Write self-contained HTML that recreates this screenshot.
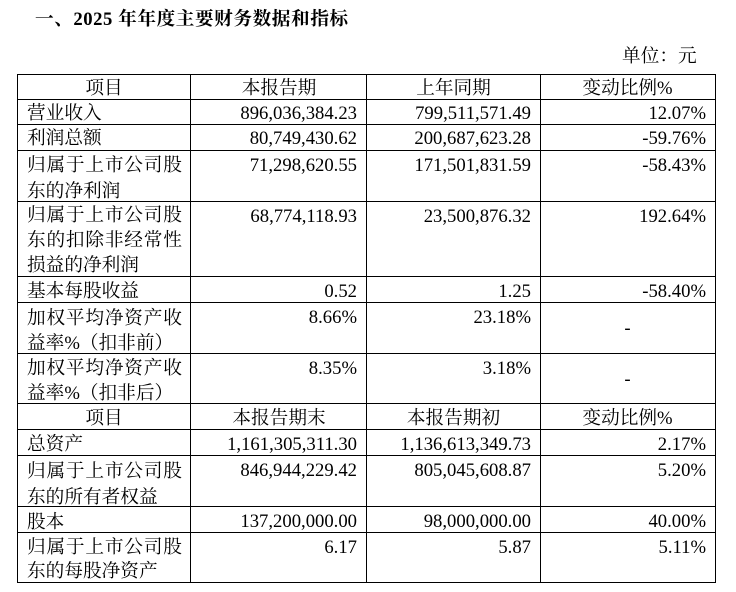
<!DOCTYPE html>
<html><head><meta charset="utf-8">
<style>
html,body{margin:0;padding:0;background:#fff;}
body{width:736px;height:592px;position:relative;overflow:hidden;font-family:"Liberation Serif","Noto Serif CJK SC",serif;font-size:18.67px;color:#000;}
.t{position:absolute;line-height:25px;white-space:nowrap;}
.m{line-height:25px;}
.h{position:absolute;background:#000;height:1px;left:17px;width:699px;}
.v{position:absolute;background:#000;width:1px;top:74px;height:509px;}
.l{left:27px;}
.j{letter-spacing:0.8px;}
.c2{right:379px;text-align:right;}
.c3{right:205px;text-align:right;}
.c4{right:30px;text-align:right;}
.k1{left:17px;width:174px;text-align:center;}
.k2{left:191px;width:176px;text-align:center;}
.k3{left:367px;width:173px;text-align:center;}
.k4{left:540px;width:175px;text-align:center;}
</style>
</head><body>

<div class="t" style="left:35px;top:7px;font-weight:bold;letter-spacing:0.55px;">一、2025 年年度主要财务数据和指标</div>
<div class="t" style="left:622px;top:44px;">单位：元</div>

<!-- horizontal lines -->
<div class="h" style="top:74px"></div>
<div class="h" style="top:99px"></div>
<div class="h" style="top:124px"></div>
<div class="h" style="top:150px"></div>
<div class="h" style="top:201px"></div>
<div class="h" style="top:276px"></div>
<div class="h" style="top:302px"></div>
<div class="h" style="top:353px"></div>
<div class="h" style="top:403px"></div>
<div class="h" style="top:429px"></div>
<div class="h" style="top:455px"></div>
<div class="h" style="top:506px"></div>
<div class="h" style="top:532px"></div>
<div class="h" style="top:582px"></div>
<!-- vertical lines -->
<div class="v" style="left:17px"></div>
<div class="v" style="left:190px"></div>
<div class="v" style="left:366px"></div>
<div class="v" style="left:540px"></div>
<div class="v" style="left:715px"></div>

<!-- header 1 -->
<div class="t k1" style="top:76px">项目</div>
<div class="t k2" style="top:76px">本报告期</div>
<div class="t k3" style="top:76px">上年同期</div>
<div class="t k4" style="top:76px">变动比例%</div>

<!-- R1 -->
<div class="t l" style="top:101px">营业收入</div>
<div class="t c2" style="top:101px">896,036,384.23</div>
<div class="t c3" style="top:101px">799,511,571.49</div>
<div class="t c4" style="top:101px">12.07%</div>

<!-- R2 -->
<div class="t l" style="top:126px">利润总额</div>
<div class="t c2" style="top:126px">80,749,430.62</div>
<div class="t c3" style="top:126px">200,687,623.28</div>
<div class="t c4" style="top:126px">-59.76%</div>

<!-- R3 -->
<div class="t l" style="top:153px;line-height:25.5px"><span class="j">归属于上市公司股</span><br>东的净利润</div>
<div class="t c2" style="top:153px">71,298,620.55</div>
<div class="t c3" style="top:153px">171,501,831.59</div>
<div class="t c4" style="top:153px">-58.43%</div>

<!-- R4 -->
<div class="t l" style="top:204px;line-height:24.8px"><span class="j">归属于上市公司股</span><br><span class="j">东的扣除非经常性</span><br>损益的净利润</div>
<div class="t c2" style="top:204px">68,774,118.93</div>
<div class="t c3" style="top:204px">23,500,876.32</div>
<div class="t c4" style="top:204px">192.64%</div>

<!-- R5 -->
<div class="t l" style="top:279px">基本每股收益</div>
<div class="t c2" style="top:279px">0.52</div>
<div class="t c3" style="top:279px">1.25</div>
<div class="t c4" style="top:279px">-58.40%</div>

<!-- R6 -->
<div class="t l" style="top:305.5px;line-height:25px"><span class="j">加权平均净资产收</span><br>益率%（扣非前）</div>
<div class="t c2" style="top:305px">8.66%</div>
<div class="t c3" style="top:305px">23.18%</div>
<div class="t k4" style="top:316px">-</div>

<!-- R7 -->
<div class="t l" style="top:356px;line-height:25px"><span class="j">加权平均净资产收</span><br>益率%（扣非后）</div>
<div class="t c2" style="top:356px">8.35%</div>
<div class="t c3" style="top:356px">3.18%</div>
<div class="t k4" style="top:367px">-</div>

<!-- header 2 -->
<div class="t k1" style="top:406px">项目</div>
<div class="t k2" style="top:406px">本报告期末</div>
<div class="t k3" style="top:406px">本报告期初</div>
<div class="t k4" style="top:406px">变动比例%</div>

<!-- R9 -->
<div class="t l" style="top:432px">总资产</div>
<div class="t c2" style="top:431.5px">1,161,305,311.30</div>
<div class="t c3" style="top:431.5px">1,136,613,349.73</div>
<div class="t c4" style="top:431.5px">2.17%</div>

<!-- R10 -->
<div class="t l" style="top:459px;line-height:25.5px"><span class="j">归属于上市公司股</span><br>东的所有者权益</div>
<div class="t c2" style="top:458px">846,944,229.42</div>
<div class="t c3" style="top:458px">805,045,608.87</div>
<div class="t c4" style="top:458px">5.20%</div>

<!-- R11 -->
<div class="t l" style="top:509.5px">股本</div>
<div class="t c2" style="top:509px">137,200,000.00</div>
<div class="t c3" style="top:509px">98,000,000.00</div>
<div class="t c4" style="top:509px">40.00%</div>

<!-- R12 -->
<div class="t l" style="top:535.5px;line-height:24.5px"><span class="j">归属于上市公司股</span><br>东的每股净资产</div>
<div class="t c2" style="top:534.5px">6.17</div>
<div class="t c3" style="top:534.5px">5.87</div>
<div class="t c4" style="top:534.5px">5.11%</div>

</body></html>
